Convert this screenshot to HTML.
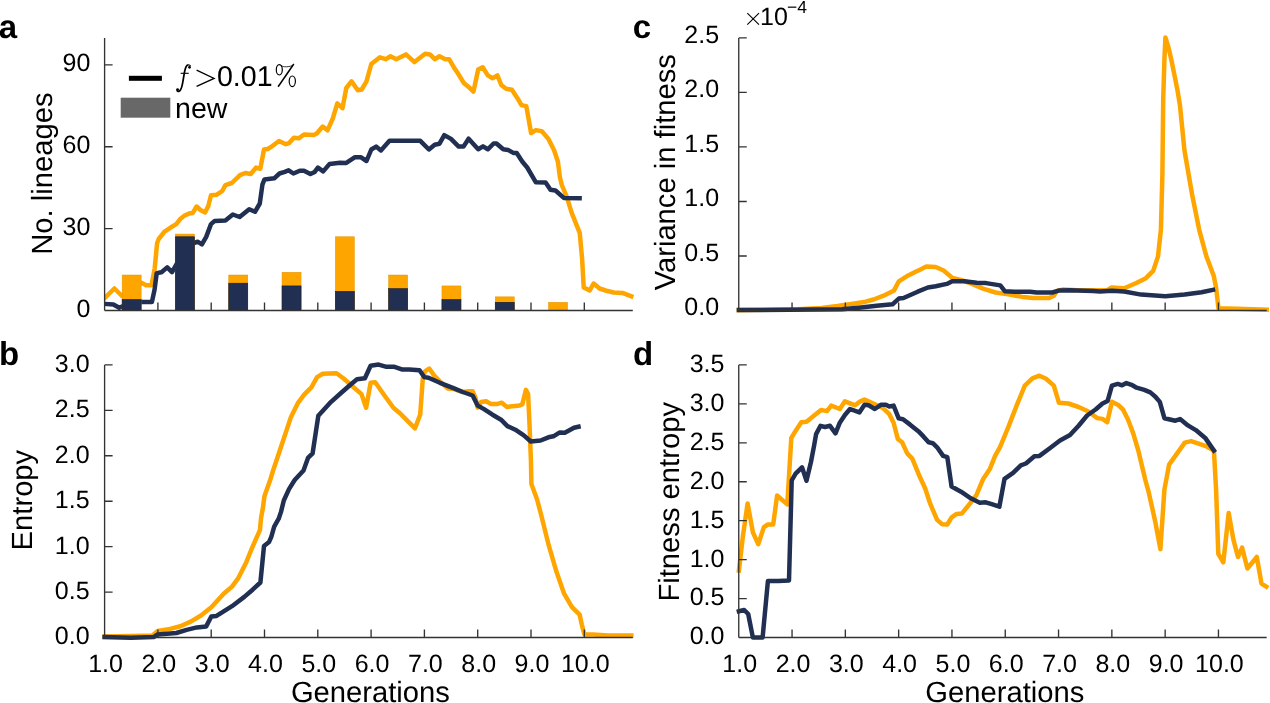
<!DOCTYPE html><html><head><meta charset="utf-8"><style>html,body{margin:0;padding:0;background:#fff;}svg{display:block;will-change:transform}</style></head><body>
<svg width="1270" height="703" viewBox="0 0 1270 703" font-family="Liberation Sans, sans-serif" text-rendering="geometricPrecision">
<rect width="1270" height="703" fill="#fff"/>
<clipPath id="ca"><rect x="104.6" y="0" width="600" height="340"/></clipPath>
<polyline points="104.6,298.1 114.4,288.5 122,296 131,290 141.3,282.7 146.1,285.2 151.5,285.2 154.7,268.3 157.1,243.3 158.7,239 164.5,231.6 171,227.3 176.3,224.1 180,219.3 183.8,216.1 189.1,213.4 192.8,212.9 196.6,206.5 200.8,210.2 205.1,212.4 208.3,206 211,195.3 216.8,194.7 222.2,191 225.4,185.1 231.8,183 240,175.1 245.3,173 250.7,174 256,167.6 260.3,168.7 264,149.5 267.7,149 272,146.3 279,141 285.9,144.2 289.1,143.1 293.9,137.7 298.7,138.3 304,134.5 313.6,135.1 316.8,133.5 322.7,126.5 327.5,130.3 332.8,118.5 337.3,103.4 342.5,108.2 346.3,88 351.5,81.3 357.8,90.3 361.7,89.5 366.5,81.3 371.3,64 379.9,57.3 385.7,59.2 390.5,56.3 396.3,59.2 405.9,54.4 414.5,62.1 425.1,53.8 429.9,54.4 434.7,59.2 439.5,56.3 445.2,59.2 449.1,59.2 454.8,68.8 458.7,74.6 463.8,83 468.6,86.9 473.4,91.7 478.2,69.6 482.7,67.3 487.8,75.4 492.6,78.2 497.4,75.4 501.3,85 506.1,88.8 511.9,89.8 517.6,98.4 521.5,105.1 526.3,106.1 531.1,133 535.9,130.1 541.6,131.1 548.3,138.7 554.1,150.3 557.9,161.8 559.9,177.2 561.8,185 566.8,196.9 571.7,212.8 579.7,232.8 582.1,258.6 583.7,287.5 589.7,290.5 593.6,283.5 599.6,288.5 605.6,290.5 613.6,292.5 622.5,292.9 631.3,296.3" fill="none" stroke="#FFA500" stroke-width="4.5" stroke-linejoin="round" stroke-linecap="square" clip-path="url(#ca)"/>
<polyline points="104.6,303.9 113.4,304.5 119.2,307.7 130,303 140.9,302 151.9,302 154.5,290 156.7,273.1 161.5,272.2 167.2,267.4 172,272.2 180,258 193.4,243.3 197.6,241.7 201.9,244.4 206.2,236.9 211,224.1 214.7,220.9 225.4,220.4 232.8,214.5 239.6,217 249.2,209.3 255,211.8 259.8,203.5 262.4,184.7 264.5,179.4 274.2,178.3 279.5,173.5 284.8,171.9 288.6,170.3 293.4,173.5 299.8,170.8 304,170.8 310.4,174 314.7,171.9 317.9,167.6 323.2,171.4 329.6,163.9 340,162.8 346.3,162.9 355,157.2 360.7,157.2 366.5,161 371.3,149.5 376.1,146.6 380.9,150.4 389.5,140.8 420.3,140.8 428.9,149.5 434.7,144.7 439.5,143.7 444.3,135.1 451,138.9 458.7,146.6 463.5,146.6 468.6,138.7 478.2,149.3 483,146.4 487.8,149.3 493.6,143.5 496.5,143.5 503.2,149.3 508,149.9 513.8,153.1 516.7,153.1 522.4,161.8 527.2,167.5 535.9,182.3 545.6,182.5 550.5,189.7 555.5,190.5 563.8,197.9 579.6,198.2" fill="none" stroke="#213052" stroke-width="4.5" stroke-linejoin="round" stroke-linecap="square" clip-path="url(#ca)"/>
<rect x="122.15" y="275.01" width="19" height="35.49" fill="#FFA500" stroke="#E39400" stroke-width="0.5"/>
<rect x="122.15" y="299.58" width="19" height="10.92" fill="#213052" stroke="#141c33" stroke-width="0.6"/>
<rect x="175.45" y="234.06" width="19" height="76.44" fill="#FFA500" stroke="#E39400" stroke-width="0.5"/>
<rect x="175.45" y="236.79" width="19" height="73.71" fill="#213052" stroke="#141c33" stroke-width="0.6"/>
<rect x="228.75" y="275.01" width="19" height="35.49" fill="#FFA500" stroke="#E39400" stroke-width="0.5"/>
<rect x="228.75" y="283.2" width="19" height="27.3" fill="#213052" stroke="#141c33" stroke-width="0.6"/>
<rect x="282.05" y="272.28" width="19" height="38.22" fill="#FFA500" stroke="#E39400" stroke-width="0.5"/>
<rect x="282.05" y="285.93" width="19" height="24.57" fill="#213052" stroke="#141c33" stroke-width="0.6"/>
<rect x="335.35" y="236.79" width="19" height="73.71" fill="#FFA500" stroke="#E39400" stroke-width="0.5"/>
<rect x="335.35" y="291.39" width="19" height="19.11" fill="#213052" stroke="#141c33" stroke-width="0.6"/>
<rect x="388.65" y="275.01" width="19" height="35.49" fill="#FFA500" stroke="#E39400" stroke-width="0.5"/>
<rect x="388.65" y="288.66" width="19" height="21.84" fill="#213052" stroke="#141c33" stroke-width="0.6"/>
<rect x="441.95" y="285.93" width="19" height="24.57" fill="#FFA500" stroke="#E39400" stroke-width="0.5"/>
<rect x="441.95" y="299.58" width="19" height="10.92" fill="#213052" stroke="#141c33" stroke-width="0.6"/>
<rect x="495.25" y="296.85" width="19" height="13.65" fill="#FFA500" stroke="#E39400" stroke-width="0.5"/>
<rect x="495.25" y="302.31" width="19" height="8.19" fill="#213052" stroke="#141c33" stroke-width="0.6"/>
<rect x="548.55" y="302.31" width="19" height="8.19" fill="#FFA500" stroke="#E39400" stroke-width="0.5"/>
<path d="M104.6 37.9V310.5M104.6 310.5H632.8M104.6 310.5h8M104.6 228.6h8M104.6 146.7h8M104.6 64.8h8M157.9 310.5v-8M211.2 310.5v-8M264.5 310.5v-8M317.8 310.5v-8M371.1 310.5v-8M424.4 310.5v-8M477.7 310.5v-8M531 310.5v-8M584.3 310.5v-8" stroke="#333333" stroke-width="1.35" fill="none"/>
<text x="90.4" y="316.7" font-size="25" text-anchor="end">0</text>
<text x="90.4" y="234.8" font-size="25" text-anchor="end">30</text>
<text x="90.4" y="152.9" font-size="25" text-anchor="end">60</text>
<text x="90.4" y="71" font-size="25" text-anchor="end">90</text>
<polyline points="104.6,636.5 130.9,636.1 152.6,635.5 157.7,630.9 170.1,628.9 180.4,626.2 190.7,621.6 201,615.5 211.3,607.2 223.7,593.8 232,586.6 238.1,578.4 246.4,561.9 251.4,549.5 255.9,539.2 259.9,530.1 261.1,517.6 262.8,508.5 264.5,495.9 270.2,480 272.8,471.5 281.9,444.2 291,416.9 297.8,403.2 304.6,394.1 311.4,387.3 317.1,377.1 322.8,373.7 336.5,373.2 343.3,378.2 352.4,386.2 361.5,394.1 366.1,407.8 370.6,382.8 375.2,382.3 384.3,395.3 393.4,407.8 400.2,413.5 407,420.3 415,428.3 420.2,414.6 422.8,378.5 425,371.4 429.2,368.5 434.2,375.6 439.9,381.3 447.7,388.4 454.1,389.1 462.7,392 468.3,391.3 472.6,391.3 475.5,397.7 477.6,407.6 481.1,401.9 486.1,401.2 491.1,404.1 496.8,404.1 501.8,402.7 506.7,406.9 519.5,405.5 522.4,404.1 525.9,389.9 528.1,394.1 529.5,424 530.9,459.5 531.4,483.9 537.1,499.5 541,514.3 548.7,545.2 556.4,571.6 564.1,593.7 571.8,606.9 579.6,614.6 581.8,624.6 584.4,634.5 592.8,634.5 608.2,635.6 631.3,635.6" fill="none" stroke="#FFA500" stroke-width="4.5" stroke-linejoin="round" stroke-linecap="square"/>
<polyline points="104.6,637.1 130.9,637.7 153.6,637.1 157.7,634.4 176.3,633 186.6,629.9 196.9,627.4 206.2,626.4 211.3,616.5 216.5,615.9 223.7,611.3 232,606.2 244.3,596.9 252.6,589.7 260.4,582.5 264,546 269,542.1 271.3,536.9 274.2,526.7 278.7,518.7 281,511.9 283.8,500.5 289,489.1 294.7,480 303.5,470.4 308,457.9 312.6,453.3 318.3,415.8 329.7,403.2 341,393 350.1,385 357,379.3 364.9,378.2 370.6,365.7 378.6,364.6 386.5,366.8 394.5,366.8 402.5,369.6 409.3,369.6 419.5,370.2 424.2,377.1 428.5,377.8 439.9,382.8 454.1,388.4 462.7,392 472.6,395.5 477.6,405.5 484,409.1 492.5,414.7 501,419.7 507.4,426.1 515.3,429.7 523.8,435.4 530.8,441.5 540.6,440.5 548.4,437.3 553.4,436.3 559.8,432.4 564.8,432.7 574,427.7 578.5,426.7" fill="none" stroke="#213052" stroke-width="4.5" stroke-linejoin="round" stroke-linecap="square"/>
<path d="M104.6 364.9V637.5M104.6 637.5H632.8M104.6 637.5h8M104.6 592.07h8M104.6 546.64h8M104.6 501.21h8M104.6 455.78h8M104.6 410.35h8M104.6 364.92h8M157.9 637.5v-8M211.2 637.5v-8M264.5 637.5v-8M317.8 637.5v-8M371.1 637.5v-8M424.4 637.5v-8M477.7 637.5v-8M531 637.5v-8M584.3 637.5v-8" stroke="#333333" stroke-width="1.35" fill="none"/>
<text x="89.6" y="644.4" font-size="25" text-anchor="end">0.0</text>
<text x="89.6" y="598.97" font-size="25" text-anchor="end">0.5</text>
<text x="89.6" y="553.54" font-size="25" text-anchor="end">1.0</text>
<text x="89.6" y="508.11" font-size="25" text-anchor="end">1.5</text>
<text x="89.6" y="462.68" font-size="25" text-anchor="end">2.0</text>
<text x="89.6" y="417.25" font-size="25" text-anchor="end">2.5</text>
<text x="89.6" y="371.82" font-size="25" text-anchor="end">3.0</text>
<text x="105.6" y="672" font-size="25" text-anchor="middle">1.0</text>
<text x="158.9" y="672" font-size="25" text-anchor="middle">2.0</text>
<text x="212.2" y="672" font-size="25" text-anchor="middle">3.0</text>
<text x="265.5" y="672" font-size="25" text-anchor="middle">4.0</text>
<text x="318.8" y="672" font-size="25" text-anchor="middle">5.0</text>
<text x="372.1" y="672" font-size="25" text-anchor="middle">6.0</text>
<text x="425.4" y="672" font-size="25" text-anchor="middle">7.0</text>
<text x="478.7" y="672" font-size="25" text-anchor="middle">8.0</text>
<text x="532" y="672" font-size="25" text-anchor="middle">9.0</text>
<text x="585.3" y="672" font-size="25" text-anchor="middle">10.0</text>
<polyline points="738.9,310.1 798,309.3 821.6,308 837.4,306.1 853.1,303.8 865.7,301.7 873.6,299.5 883,295.9 894.1,290.4 898.8,281.3 908.2,275.4 916.1,271.5 920,269.7 926.3,266.5 935.7,267 943.6,270.5 948.3,274.4 952.3,278 960.9,279.9 972,283.9 983,288.6 995.6,292.5 1008.2,294.4 1022.4,296.9 1033.4,298 1049.1,298 1053.9,295.7 1057,290.9 1063.3,289.4 1077.5,290.2 1093.2,290.2 1107.4,290.2 1111.3,287.5 1124.2,288.3 1136.3,283 1145.9,278.2 1153.2,270.9 1158,256.4 1160.9,229.8 1162.4,174.2 1163.2,99.7 1164.4,60 1165.4,37.5 1168.5,47.5 1171.4,60 1174.4,74.9 1177.4,89.9 1179.9,104.8 1182.4,129.7 1184.4,150 1191.9,193.5 1199.2,229.8 1206.4,256.4 1213.7,275.8 1216.1,287.8 1218.5,308.4 1228.2,308.4 1266.7,309.6" fill="none" stroke="#FFA500" stroke-width="4.5" stroke-linejoin="round" stroke-linecap="square"/>
<polyline points="738.9,310.1 842.1,309.3 861,307.4 876.7,305.8 892.5,304.3 898.8,298.6 903.5,298 917.7,291.7 927.9,287.5 935.7,286.2 946.8,283.9 952.3,281.2 964.1,281.2 976.7,282.8 986.1,283.1 1000.3,285.4 1005,291.3 1014.5,291.7 1030.2,291.7 1036.5,292.5 1052.3,292.5 1058.6,290.6 1069.6,290.2 1093.2,290.9 1100,291.5 1112.1,290.8 1124.2,291.5 1141.1,294.6 1165.3,296.3 1184.6,294.6 1201.6,292.2 1213,289.8" fill="none" stroke="#213052" stroke-width="4.5" stroke-linejoin="round" stroke-linecap="square"/>
<path d="M738.75 37.9V310.5M738.75 310.5H1266.7M738.75 310.5h8M738.75 255.98h8M738.75 201.46h8M738.75 146.94h8M738.75 92.42h8M738.75 37.9h8M792.05 310.5v-8M845.35 310.5v-8M898.65 310.5v-8M951.95 310.5v-8M1005.25 310.5v-8M1058.55 310.5v-8M1111.85 310.5v-8M1165.15 310.5v-8M1218.45 310.5v-8" stroke="#333333" stroke-width="1.35" fill="none"/>
<text x="719.1" y="315.3" font-size="25" text-anchor="end">0.0</text>
<text x="719.1" y="260.78" font-size="25" text-anchor="end">0.5</text>
<text x="719.1" y="206.26" font-size="25" text-anchor="end">1.0</text>
<text x="719.1" y="151.74" font-size="25" text-anchor="end">1.5</text>
<text x="719.1" y="97.22" font-size="25" text-anchor="end">2.0</text>
<text x="719.1" y="42.7" font-size="25" text-anchor="end">2.5</text>
<polyline points="738.9,570.5 742.9,536.3 747.6,503.4 752.9,532.4 758.2,544.2 763.9,527.1 767.9,524.5 773.2,524.5 777.1,495.5 787.3,504.4 791.3,438 795.4,431.2 801.3,422.3 806.5,421.8 814.2,415.5 821,409.9 827,411.1 831.2,405.6 839.8,409 844.9,401.3 855.1,405.3 860.3,401.3 864.5,399.6 872.2,403.1 882.5,407.7 889.3,414.2 893.6,422.7 897.8,438.9 902.1,442.3 907.2,453.4 912.3,458.6 920,477.3 925.1,488.3 930.2,503.7 937.1,519.9 942.2,524.2 947.3,524.5 951.6,517.3 956.7,513.9 961.8,513.6 971.2,502 976.4,495.1 983.2,478.9 990,468.7 995.1,455.9 1000,447.1 1008.5,426.6 1017.1,404.4 1024.8,385.6 1032.4,378.4 1039.3,375.7 1046.1,378.8 1053.8,385.6 1058.9,402.7 1068.3,403.5 1078.6,407 1087.9,411.2 1097.3,418.1 1102.5,418.9 1107.2,422.3 1111.9,401.8 1117.8,404.7 1123,409.5 1128.1,419.8 1133.2,433.4 1138.3,450.5 1145.2,479.5 1148.8,492.7 1155.1,520.9 1160.4,549.1 1164.4,489.6 1169.1,464.6 1184.8,442.6 1191.1,441.1 1205.2,445.8 1213.9,450.5 1216.1,489.6 1218.3,553.8 1223.3,562.3 1228.7,513.1 1233.4,539.7 1238,557 1242.1,547.6 1247.4,568.5 1256.8,557 1261.5,583.6 1266.3,586.7" fill="none" stroke="#FFA500" stroke-width="4.5" stroke-linejoin="round" stroke-linecap="square"/>
<polyline points="738.9,611.3 744.2,610 748.2,614 752.9,637.6 762.6,637.6 767.9,581.1 778.4,581.1 789,580.5 791.7,480.5 795.6,473.7 802,467.3 806.5,480.8 810.9,462.2 814.1,445.6 816.1,434.1 820.5,425.8 825,427 830,425.8 835.5,433.3 839.8,422.7 844.9,415 850,409 859.4,412.4 864.5,404.8 868.8,405.3 874.8,409 880.8,404.8 885.9,404.8 889.3,406.5 893.6,405.6 898.7,418.4 903,419.3 909.8,424.4 918.3,431.2 923.4,436.4 928.6,442.3 932.8,443.2 937.1,447.3 943.1,455.9 947.3,457.2 951.6,486.6 961,491.7 971.2,498.6 979.8,502.8 985.7,502.3 991.7,504.2 999.4,506.7 1004.5,478.9 1013.1,472.9 1020.8,465.3 1025.9,463.5 1034.4,456.2 1039.5,455.9 1049.8,448.2 1060,440.5 1070,435.1 1078.6,425.7 1087.1,415.5 1095.6,409.5 1102.5,403.5 1107.6,401 1111.9,385.6 1117.8,383.9 1122.1,385.3 1126.4,383.1 1131.5,384.8 1136.6,387.7 1144.3,389.9 1150.3,392.4 1155.4,396.7 1159.8,401.9 1164.4,418.2 1175.4,420.7 1180.1,419.1 1187.9,425.4 1195.8,430.1 1205.2,437.9 1213.9,450.5" fill="none" stroke="#213052" stroke-width="4.5" stroke-linejoin="round" stroke-linecap="square"/>
<path d="M738.75 364.9V637.5M738.75 637.5H1266.7M738.75 637.5h8M738.75 598.56h8M738.75 559.62h8M738.75 520.68h8M738.75 481.74h8M738.75 442.8h8M738.75 403.86h8M738.75 364.92h8M792.05 637.5v-8M845.35 637.5v-8M898.65 637.5v-8M951.95 637.5v-8M1005.25 637.5v-8M1058.55 637.5v-8M1111.85 637.5v-8M1165.15 637.5v-8M1218.45 637.5v-8" stroke="#333333" stroke-width="1.35" fill="none"/>
<text x="724.4" y="644.4" font-size="25" text-anchor="end">0.0</text>
<text x="724.4" y="605.46" font-size="25" text-anchor="end">0.5</text>
<text x="724.4" y="566.52" font-size="25" text-anchor="end">1.0</text>
<text x="724.4" y="527.58" font-size="25" text-anchor="end">1.5</text>
<text x="724.4" y="488.64" font-size="25" text-anchor="end">2.0</text>
<text x="724.4" y="449.7" font-size="25" text-anchor="end">2.5</text>
<text x="724.4" y="410.76" font-size="25" text-anchor="end">3.0</text>
<text x="724.4" y="371.82" font-size="25" text-anchor="end">3.5</text>
<text x="739.75" y="672" font-size="25" text-anchor="middle">1.0</text>
<text x="793.05" y="672" font-size="25" text-anchor="middle">2.0</text>
<text x="846.35" y="672" font-size="25" text-anchor="middle">3.0</text>
<text x="899.65" y="672" font-size="25" text-anchor="middle">4.0</text>
<text x="952.95" y="672" font-size="25" text-anchor="middle">5.0</text>
<text x="1006.25" y="672" font-size="25" text-anchor="middle">6.0</text>
<text x="1059.55" y="672" font-size="25" text-anchor="middle">7.0</text>
<text x="1112.85" y="672" font-size="25" text-anchor="middle">8.0</text>
<text x="1166.15" y="672" font-size="25" text-anchor="middle">9.0</text>
<text x="1219.45" y="672" font-size="25" text-anchor="middle">10.0</text>
<text x="-1.2" y="37.5" font-size="33" font-weight="bold">a</text>
<text x="-1.1" y="364.5" font-size="33" font-weight="bold">b</text>
<text x="632.8" y="37.5" font-size="33" font-weight="bold">c</text>
<text x="633" y="364.5" font-size="33" font-weight="bold">d</text>
<text transform="translate(52.4 173.6) rotate(-90)" font-size="29.2" text-anchor="middle">No. lineages</text>
<text transform="translate(32.3 500.1) rotate(-90)" font-size="29.2" text-anchor="middle">Entropy</text>
<text transform="translate(674.5 172.2) rotate(-90)" font-size="29.2" text-anchor="middle">Variance in fitness</text>
<text transform="translate(678.7 501.8) rotate(-90)" font-size="29.2" text-anchor="middle">Fitness entropy</text>
<text x="370.4" y="702" font-size="29.2" text-anchor="middle">Generations</text>
<text x="1004.8" y="702" font-size="29.2" text-anchor="middle">Generations</text>
<path d="M747.3 13.2L759 24.6M747.3 24.6L759 13.2" stroke="#000" stroke-width="1.1"/>
<text x="760" y="24.6" font-size="25">10</text>
<text x="787" y="12.6" font-size="17.5">&#8722;4</text>
<rect x="128.9" y="75.8" width="33" height="5" fill="#000"/>
<path d="M187.3 65.2C185.7 66.2 185.1 69 184.5 72.2L182.7 82.6C182.1 86.4 181.1 90.6 178.9 91.3C178 91.6 177.3 91.1 177.2 90.3" stroke="#000" stroke-width="1.75" fill="none" stroke-linecap="round"/>
<path d="M187.3 65.2C188.5 64.5 190 64.9 190.5 66.3" stroke="#000" stroke-width="1.1" fill="none"/>
<circle cx="189.5" cy="67.3" r="1.4" fill="#000"/><circle cx="177.6" cy="89.6" r="1.4" fill="#000"/>
<path d="M180.7 73.3H188.7" stroke="#000" stroke-width="1.1"/>
<path d="M196.6 70.2L214.1 78.4L196.6 86.4" stroke="#000" stroke-width="1.3" fill="none" stroke-linejoin="miter"/>
<text x="216.9" y="85.8" font-size="28.6">0.01</text>
<ellipse cx="279.3" cy="69.8" rx="3.0" ry="5.2" stroke="#000" stroke-width="1.2" fill="none"/>
<ellipse cx="292.3" cy="81.3" rx="3.1" ry="5.3" stroke="#000" stroke-width="1.2" fill="none"/>
<path d="M293.8 64.0L278.1 86.7" stroke="#000" stroke-width="1.5"/>
<path d="M280.2 64.7C282 67 286 67.6 292.6 65.6" stroke="#000" stroke-width="0.8" fill="none"/>
<rect x="120.7" y="97.7" width="49.6" height="20" fill="#686868"/>
<text x="175" y="117.5" font-size="28.6">new</text>
</svg></body></html>
